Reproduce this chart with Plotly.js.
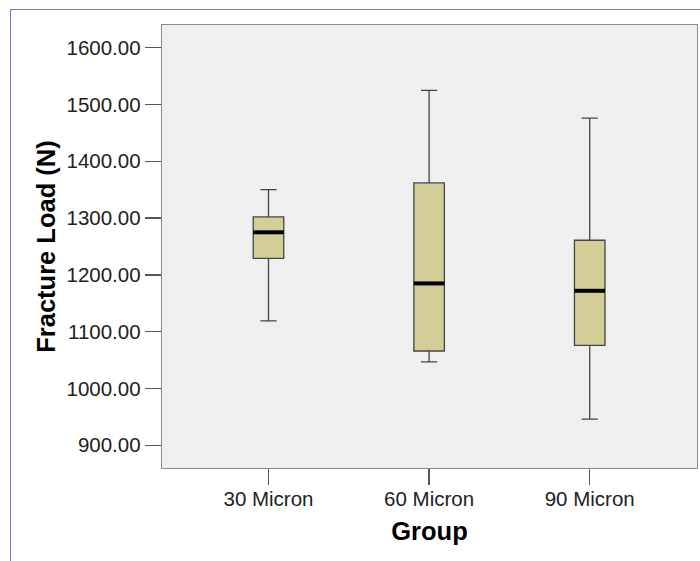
<!DOCTYPE html>
<html>
<head>
<meta charset="utf-8">
<script src="https://cdn.plot.ly/plotly-3.0.1.min.js"></script>
<style>
  html, body { margin: 0; padding: 0; background: #ffffff; }
  #wrap { position: relative; width: 700px; height: 561px; overflow: hidden; }
  #frame { position: absolute; left: 10px; top: 9px; width: 700px; height: 560px;
           border-left: 1px solid #7575d4; border-top: 1px solid #7575d4; box-sizing: border-box; }
  #chart { position: absolute; left: 0; top: 0; width: 700px; height: 561px; }
</style>
</head>
<body>
<div id="wrap">
  <div id="frame"></div>
  <div id="chart"></div>
</div>
<script>
// Data
const groups      = ["30 Micron", "60 Micron", "90 Micron"];
const lowerFence  = [1119, 1047, 946];
const q1Values    = [1229, 1066, 1076];
const medians     = [1275, 1185, 1172];
const q3Values    = [1302, 1362, 1261];
const upperFence  = [1350, 1525, 1476];
const yTickVals   = [900, 1000, 1100, 1200, 1300, 1400, 1500, 1600];

const boxWidth = 0.19;

const boxTrace = {
  type: "box",
  x: groups,
  q1: q1Values,
  median: medians,
  q3: q3Values,
  lowerfence: lowerFence,
  upperfence: upperFence,
  width: boxWidth,
  whiskerwidth: 0.53,
  fillcolor: "#d3ce97",
  line: { color: "#454545", width: 1.3 },
  boxpoints: false,
  hoverinfo: "skip",
  showlegend: false
};

// Thick black median bars, placed on the category axis from the data
const medianShapes = medians.map((m, i) => ({
  type: "line", xref: "x", yref: "y",
  x0: i - boxWidth / 2, x1: i + boxWidth / 2,
  y0: m, y1: m,
  line: { color: "#000000", width: 4 }
}));

const tickFont = { family: "Liberation Sans, Arial, sans-serif", size: 20.5, color: "#222222" };
const titleFont = { family: "Liberation Sans, Arial, sans-serif", size: 25.5, color: "#000000", weight: "bold" };

const layout = {
  width: 700, height: 561,
  margin: { l: 162, r: 3, t: 25, b: 93 },
  paper_bgcolor: "rgba(0,0,0,0)",
  plot_bgcolor: "#efefef",
  showlegend: false,
  shapes: medianShapes,
  xaxis: {
    type: "category",
    range: [-0.663, 2.668],
    showgrid: false, zeroline: false,
    showline: true, mirror: true, linecolor: "#8a8a8a", linewidth: 1.3,
    ticks: "outside", ticklen: 16, tickcolor: "#555555", tickwidth: 1.3,
    ticklabelstandoff: -4,
    tickfont: tickFont,
    title: { text: "<b>Group</b>", font: titleFont, standoff: 13 }
  },
  yaxis: {
    range: [860, 1640],
    tickvals: yTickVals,
    tickformat: ".2f",
    showgrid: false, zeroline: false,
    showline: true, mirror: true, linecolor: "#8a8a8a", linewidth: 1.3,
    ticks: "outside", ticklen: 16, tickcolor: "#555555", tickwidth: 1.3,
    tickfont: tickFont,
    title: { text: "<b>Fracture Load (N)</b>", font: titleFont, standoff: 3 }
  }
};

Plotly.newPlot("chart", [boxTrace], layout, { staticPlot: true, displayModeBar: false });
</script>
</body>
</html>
